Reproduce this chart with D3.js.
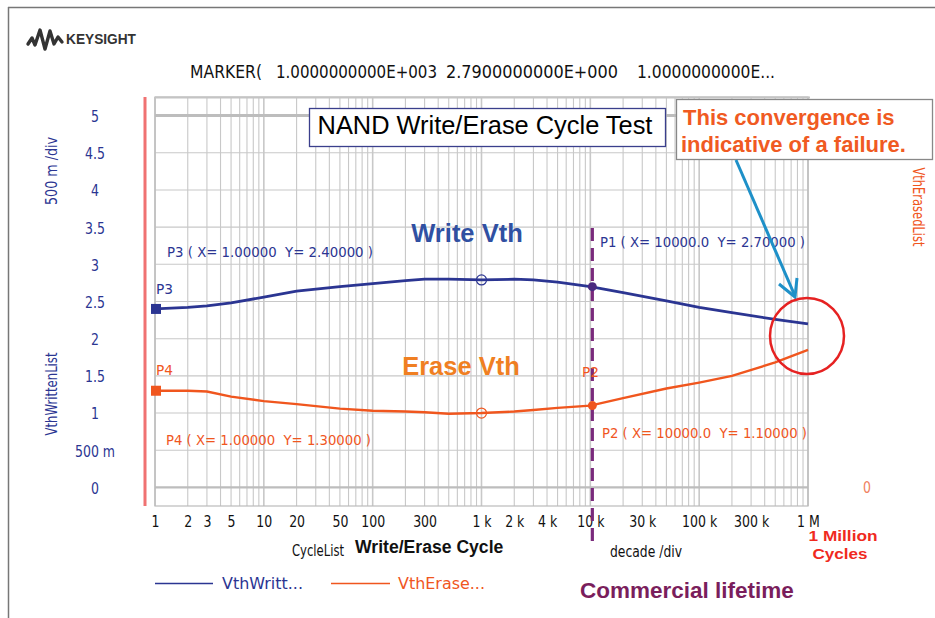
<!DOCTYPE html>
<html>
<head>
<meta charset="utf-8">
<script src="https://cdn.jsdelivr.net/npm/d3@7/dist/d3.min.js"></script>
<style>
  body { margin: 0; background: #fff; }
  svg { display: block; }
  .nar { font-family: "DejaVu Sans", sans-serif; }
  .bold { font-family: "Liberation Sans", Arial, sans-serif; font-weight: bold; }
</style>
</head>
<body>
<svg id="chart" width="935" height="618"></svg>
<script>
// ---- data ----
const cycles   = [1, 2, 3, 5, 10, 20, 50, 100, 200, 300, 500, 1000, 2000, 3000, 5000, 10000, 20000, 50000, 100000, 200000, 500000, 1000000];
const vthWrite = [2.40, 2.42, 2.44, 2.48, 2.56, 2.64, 2.70, 2.74, 2.78, 2.80, 2.80, 2.79, 2.80, 2.79, 2.76, 2.70, 2.62, 2.51, 2.42, 2.35, 2.26, 2.20];
const vthErase = [1.30, 1.30, 1.29, 1.22, 1.16, 1.12, 1.06, 1.03, 1.02, 1.01, 0.99, 1.00, 1.02, 1.04, 1.07, 1.10, 1.20, 1.33, 1.41, 1.50, 1.68, 1.85];
const yTicks = [0, 0.5, 1, 1.5, 2, 2.5, 3, 3.5, 4, 4.5, 5];
const yTickLabels = ["0", "500 m", "1", "1.5", "2", "2.5", "3", "3.5", "4", "4.5", "5"];
const xTicks = [1, 2, 3, 5, 10, 20, 50, 100, 300, 1000, 2000, 4000, 10000, 30000, 100000, 300000, 1000000];
const xTickLabels = ["1", "2", "3", "5", "10", "20", "50", "100", "300", "1 k", "2 k", "4 k", "10 k", "30 k", "100 k", "300 k", "1 M"];
const markerP1P2X = 10000;
const markerCircleX = 1000;

// ---- colors ----
const BLUE = "#2b3592", ORANGE = "#f0561e", PURPLE = "#7a2a7c", GRID = "#c8c8c8";

const svg = d3.select("#chart");
const x = d3.scaleLog().domain([1, 1e6]).range([155, 808]);
const y = d3.scaleLinear().domain([-0.25, 5.25]).range([506, 97]);

// narrow text helper: font size for height, textLength for width
function ntext(txt, xx, yy, col, size, width, anchor) {
  const t = svg.append("text").attr("class", "nar").attr("x", xx).attr("y", yy)
    .attr("font-size", size).attr("fill", col).attr("xml:space", "preserve").text(txt);
  if (width) t.attr("textLength", width).attr("lengthAdjust", "spacingAndGlyphs");
  if (anchor) t.attr("text-anchor", anchor);
  return t;
}

// frame
svg.append("line").attr("x1", 8).attr("x2", 935).attr("y1", 7.5).attr("y2", 7.5).attr("stroke", "#777").attr("stroke-width", 1.5);
svg.append("line").attr("x1", 8.5).attr("x2", 8.5).attr("y1", 7).attr("y2", 618).attr("stroke", "#777").attr("stroke-width", 1.5);

// logo
svg.append("path")
  .attr("d", "M28,44 L32,38 L35,45 L40,30 L45,49 L50,31 L54,44 L58,37 L62,42")
  .attr("fill", "none").attr("stroke", "#333").attr("stroke-width", 3.4).attr("stroke-linejoin", "round").attr("stroke-linecap", "round");
svg.append("text").attr("class", "bold").attr("x", 66).attr("y", 44).attr("font-size", 14).attr("fill", "#333")
  .attr("textLength", 70).attr("lengthAdjust", "spacingAndGlyphs").text("KEYSIGHT");

// marker readout
ntext("MARKER(", 190, 78, "#111", 17, 72);
ntext("1.0000000000E+003", 276, 78, "#111", 17, 161);
ntext("2.7900000000E+000", 446, 78, "#111", 17, 172);
ntext("1.0000000000E...", 637, 78, "#111", 17, 138);

// grid
const g = svg.append("g");
const vgrid = [];
for (let d = 0; d < 6; d++) for (let k = 1; k <= 9; k++) vgrid.push(k * Math.pow(10, d));
vgrid.push(1e6);
g.selectAll(".vg").data(vgrid).join("line")
  .attr("x1", d => x(d)).attr("x2", d => x(d)).attr("y1", 97).attr("y2", 506)
  .attr("stroke", GRID).attr("stroke-width", d => (Math.log10(d) % 1 === 0 ? 1.6 : 1.1));
g.selectAll(".hg").data(yTicks).join("line")
  .attr("x1", 155).attr("x2", 808).attr("y1", d => y(d)).attr("y2", d => y(d))
  .attr("stroke", d => (d === 0 || d === 5) ? "#bdbdbd" : GRID)
  .attr("stroke-width", d => (d === 5 ? 3 : d === 0 ? 2.2 : 1.1));
g.append("rect").attr("x", 155).attr("y", 97).attr("width", 653).attr("height", 409)
  .attr("fill", "none").attr("stroke", "#bbb").attr("stroke-width", 1.2);
g.append("line").attr("x1", 155).attr("x2", 810).attr("y1", 97.5).attr("y2", 97.5).attr("stroke", "#c4c4c4").attr("stroke-width", 2);

// red left bar
svg.append("line").attr("x1", 145).attr("x2", 145).attr("y1", 97).attr("y2", 506).attr("stroke", "#f07272").attr("stroke-width", 3);

// y axis labels
const yAxis = d3.axisLeft(y).tickValues(yTicks).tickSize(0).tickPadding(0)
  .tickFormat((d, i) => yTickLabels[i]);
const ya = svg.append("g").attr("transform", "translate(95,0)").call(yAxis);
ya.select(".domain").remove();
ya.selectAll("text").attr("class", "nar").attr("text-anchor", "middle").attr("x", 0).attr("dy", "0.36em")
  .attr("font-size", 16.5).attr("fill", BLUE).attr("transform", "scale(0.76,1)");

// y axis titles
svg.append("text").attr("class", "nar").attr("transform", "translate(57,171) rotate(-90)")
  .attr("text-anchor", "middle").attr("font-size", 15).attr("fill", BLUE)
  .attr("textLength", 68).attr("lengthAdjust", "spacingAndGlyphs").text("500 m /div");
svg.append("text").attr("class", "nar").attr("transform", "translate(57,394) rotate(-90)")
  .attr("text-anchor", "middle").attr("font-size", 15).attr("fill", BLUE)
  .attr("textLength", 83).attr("lengthAdjust", "spacingAndGlyphs").text("VthWrittenList");
svg.append("text").attr("class", "nar").attr("transform", "translate(913,207) rotate(90)")
  .attr("text-anchor", "middle").attr("font-size", 15).attr("fill", ORANGE)
  .attr("textLength", 79).attr("lengthAdjust", "spacingAndGlyphs").text("VthErasedList");
svg.append("text").attr("class", "nar").attr("x", 867).attr("y", 493).attr("text-anchor", "middle")
  .attr("font-size", 16.5).attr("fill", "#f08060").attr("transform", "translate(867,0) scale(0.76,1) translate(-867,0)").text("0");

// x axis labels
const xAxis = d3.axisBottom(x).tickValues(xTicks).tickSize(0).tickPadding(0)
  .tickFormat((d, i) => xTickLabels[i]);
const xa = svg.append("g").attr("transform", "translate(0,527)").call(xAxis);
xa.select(".domain").remove();
xa.selectAll("text").attr("class", "nar").attr("font-size", 16.5).attr("fill", "#111")
  .attr("y", 0).attr("dy", 0).attr("transform", "scale(0.76,1)");

ntext("CycleList", 292, 556, "#111", 15, 52);
svg.append("text").attr("class", "bold").attr("x", 355).attr("y", 553).attr("font-size", 17.6).attr("fill", "#111").text("Write/Erase Cycle");
ntext("decade /div", 610, 557, "#111", 15, 72);
svg.append("text").attr("class", "bold").attr("x", 843).attr("y", 541).attr("text-anchor", "middle")
  .attr("font-size", 15).attr("fill", "#f02a1e").attr("textLength", 69).attr("lengthAdjust", "spacingAndGlyphs").text("1 Million");
svg.append("text").attr("class", "bold").attr("x", 840).attr("y", 559).attr("text-anchor", "middle")
  .attr("font-size", 15).attr("fill", "#f02a1e").attr("textLength", 55).attr("lengthAdjust", "spacingAndGlyphs").text("Cycles");

// dashed marker line
svg.append("line").attr("x1", x(markerP1P2X) + 2).attr("x2", x(markerP1P2X) + 2).attr("y1", 228).attr("y2", 548)
  .attr("stroke", PURPLE).attr("stroke-width", 3.2).attr("stroke-dasharray", "13,7");

// curves
const line = d3.line().x((d, i) => x(cycles[i])).y(d => y(d));
svg.append("path").datum(vthWrite).attr("d", line).attr("fill", "none").attr("stroke", BLUE).attr("stroke-width", 2.8);
svg.append("path").datum(vthErase).attr("d", line).attr("fill", "none").attr("stroke", ORANGE).attr("stroke-width", 2.4);

// markers
const iStart = 0, iMid = cycles.indexOf(markerCircleX), iP = cycles.indexOf(markerP1P2X);
svg.append("rect").attr("x", x(cycles[iStart]) - 4).attr("y", y(vthWrite[iStart]) - 5).attr("width", 10).attr("height", 10).attr("fill", BLUE);
svg.append("rect").attr("x", x(cycles[iStart]) - 4).attr("y", y(vthErase[iStart]) - 5).attr("width", 10).attr("height", 10).attr("fill", ORANGE);
svg.append("circle").attr("cx", x(cycles[iMid])).attr("cy", y(vthWrite[iMid])).attr("r", 5).attr("fill", "none").attr("stroke", BLUE).attr("stroke-width", 1.2);
svg.append("circle").attr("cx", x(cycles[iMid])).attr("cy", y(vthErase[iMid])).attr("r", 5).attr("fill", "none").attr("stroke", ORANGE).attr("stroke-width", 1.2);
svg.append("circle").attr("cx", x(cycles[iP]) + 2).attr("cy", y(vthWrite[iP])).attr("r", 4.5).attr("fill", "#4a2a80");
svg.append("circle").attr("cx", x(cycles[iP]) + 2).attr("cy", y(vthErase[iP])).attr("r", 4.5).attr("fill", ORANGE);

// marker labels
ntext("P3 ( X= 1.00000  Y= " + vthWrite[iStart].toFixed(5) + " )", 167, 257, BLUE, 14.5, 206);
ntext("P3", 156, 294, BLUE, 14.5, 17);
ntext("P4", 156, 375, ORANGE, 14.5, 17);
ntext("P4 ( X= 1.00000  Y= " + vthErase[iStart].toFixed(5) + " )", 166, 445, ORANGE, 14.5, 205);
ntext("P1 ( X= 10000.0  Y= " + vthWrite[iP].toFixed(5) + " )", 600, 247, BLUE, 14.5, 205);
ntext("P2 ( X= 10000.0  Y= " + vthErase[iP].toFixed(5) + " )", 602, 438, ORANGE, 14.5, 205);
ntext("P2", 582, 377, ORANGE, 14.5, 17);

// series big labels
svg.append("text").attr("class", "bold").attr("x", 467).attr("y", 242).attr("text-anchor", "middle")
  .attr("font-size", 25.5).attr("fill", "#3050a2").text("Write Vth");
svg.append("text").attr("class", "bold").attr("x", 461).attr("y", 375).attr("text-anchor", "middle")
  .attr("font-size", 25.5).attr("fill", "#f07f22").text("Erase Vth");

// title box
svg.append("rect").attr("x", 309.5).attr("y", 108.5).attr("width", 356).attr("height", 38)
  .attr("fill", "#fff").attr("stroke", "#3a3f8c").attr("stroke-width", 1.3);
svg.append("text").attr("x", 485).attr("y", 134).attr("text-anchor", "middle")
  .attr("font-family", "Liberation Sans, Arial, sans-serif").attr("font-size", 25.4).attr("fill", "#000")
  .text("NAND Write/Erase Cycle Test");

// annotation box
svg.append("rect").attr("x", 676.5).attr("y", 99.5).attr("width", 256).attr("height", 60)
  .attr("fill", "#fff").attr("stroke", "#888").attr("stroke-width", 1.3);
svg.append("text").attr("class", "bold").attr("x", 683).attr("y", 125).attr("font-size", 22).attr("fill", "#f05a22").text("This convergence is");
svg.append("text").attr("class", "bold").attr("x", 681).attr("y", 152).attr("font-size", 22).attr("fill", "#f05a22").text("indicative of a failure.");

// arrow
svg.append("line").attr("x1", 736).attr("y1", 160).attr("x2", 795).attr("y2", 296)
  .attr("stroke", "#1e90c8").attr("stroke-width", 3);
svg.append("path").attr("d", "M779,284 L795,297 L797,278")
  .attr("fill", "none").attr("stroke", "#1e90c8").attr("stroke-width", 3);

// red circle
svg.append("ellipse").attr("cx", x(1e6) - 1).attr("cy", 336).attr("rx", 37).attr("ry", 38)
  .attr("fill", "none").attr("stroke", "#e62222").attr("stroke-width", 2.5);

// legend
svg.append("line").attr("x1", 155).attr("x2", 213).attr("y1", 583.5).attr("y2", 583.5).attr("stroke", BLUE).attr("stroke-width", 1.5);
ntext("VthWritt...", 222, 589, BLUE, 15, 81);
svg.append("line").attr("x1", 331).attr("x2", 390).attr("y1", 583.5).attr("y2", 583.5).attr("stroke", ORANGE).attr("stroke-width", 1.5);
ntext("VthErase...", 398, 589, ORANGE, 15, 87);

svg.append("text").attr("class", "bold").attr("x", 580).attr("y", 598).attr("font-size", 22.5).attr("fill", "#7a1e5c").text("Commercial lifetime");
</script>
</body>
</html>
